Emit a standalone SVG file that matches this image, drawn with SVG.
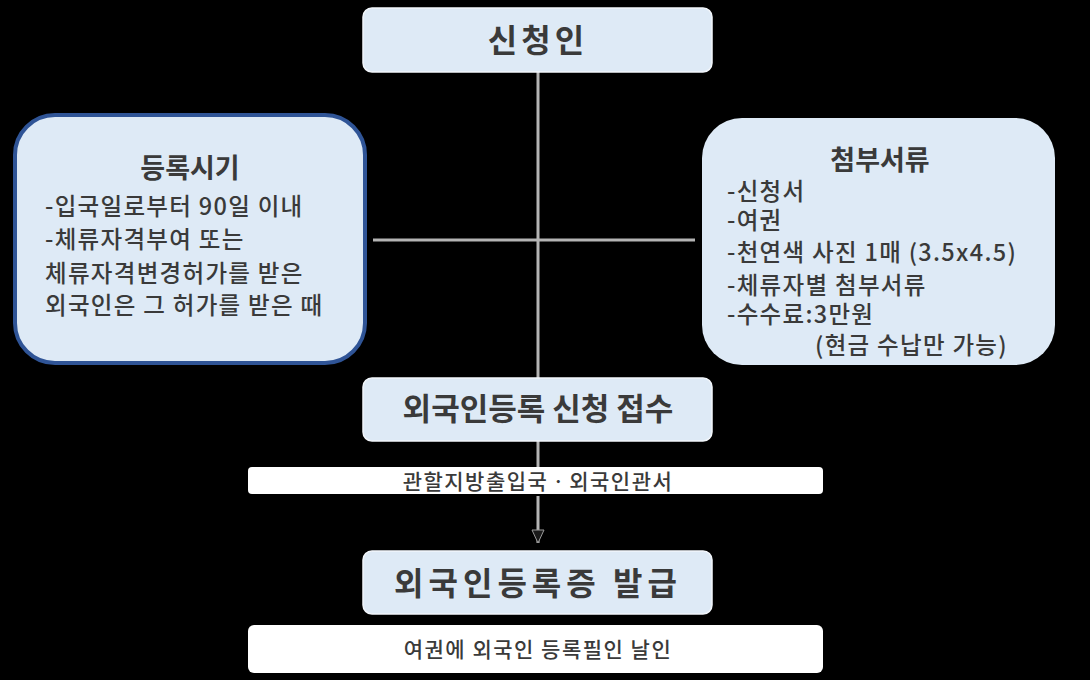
<svg xmlns="http://www.w3.org/2000/svg" width="1090" height="680" viewBox="0 0 1090 680">
<defs>
<style>
.bx{fill:#deeaf6;stroke:#f2f6fb;stroke-width:1.5}
.wb{fill:#ffffff}
.t{font-family:"Noto Sans CJK KR","Noto Sans",sans-serif;fill:#3a3a3a;font-weight:500}
.b{font-weight:bold}
.c{text-anchor:middle}
.bd{font-size:23.5px;letter-spacing:1.3px}
.ln{stroke:#b4b4b4;stroke-width:3;fill:none}
</style>
<marker id="ah" viewBox="-1 -1 15 14" refX="13" refY="6" markerWidth="15" markerHeight="14" markerUnits="userSpaceOnUse" orient="auto">
<path d="M0,0 L13,6 L0,12 Z" fill="#1a1a1a" stroke="#9a9a9a" stroke-width="1"/>
</marker>
</defs>
<rect width="1090" height="680" fill="#000000"/>
<g id="connectors">
<line class="ln" x1="538" y1="72" x2="538" y2="378"/>
<line class="ln" x1="373" y1="240" x2="695" y2="240"/>
<line class="ln" x1="538" y1="441" x2="538" y2="467"/>
<line class="ln" x1="538" y1="496" x2="538" y2="543" marker-end="url(#ah)"/>
</g>
<g id="applicant">
<rect class="bx" x="363" y="8" width="349" height="64" rx="9"/>
<text class="t b c" x="538" y="52" font-size="32" letter-spacing="4">신청인</text>
</g>
<g id="registration-time">
<rect x="15" y="115" width="350" height="248" rx="40" fill="#deeaf6" stroke="#2f5496" stroke-width="4"/>
<text class="t b c" x="190" y="178" font-size="27">등록시기</text>
<text class="t bd" x="45" y="215">-입국일로부터 90일 이내</text>
<text class="t bd" x="45" y="248">-체류자격부여 또는</text>
<text class="t bd" x="45" y="282">체류자격변경허가를 받은</text>
<text class="t bd" x="45" y="314">외국인은 그 허가를 받은 때</text>
</g>
<g id="documents">
<rect x="702" y="118" width="353" height="247" rx="40" fill="#deeaf6"/>
<text class="t b c" x="880" y="170" font-size="27">첨부서류</text>
<text class="t bd" x="727" y="200">-신청서</text>
<text class="t bd" x="727" y="229">-여권</text>
<text class="t bd" x="727" y="261">-천연색 사진 1매 (3.5x4.5)</text>
<text class="t bd" x="727" y="294">-체류자별 첨부서류</text>
<text class="t bd" x="727" y="323">-수수료:3만원</text>
<text class="t bd" x="815" y="354">(현금 수납만 가능)</text>
</g>
<g id="receipt">
<rect class="bx" x="363" y="378" width="349" height="63" rx="9"/>
<text class="t b c" x="538" y="420" font-size="31">외국인등록 신청 접수</text>
</g>
<g id="office">
<rect class="wb" x="248" y="467" width="575" height="27" rx="4"/>
<text class="t c" x="538" y="489" font-size="21" letter-spacing="1.5">관할지방출입국ㆍ외국인관서</text>
</g>
<g id="issue">
<rect class="bx" x="363" y="551" width="349" height="63" rx="9"/>
<text class="t b c" x="538" y="595" font-size="32" letter-spacing="5">외국인등록증 발급</text>
</g>
<g id="stamp">
<rect class="wb" x="248" y="625" width="575" height="48" rx="6"/>
<text class="t c" x="538" y="657" font-size="21" letter-spacing="1.5">여권에 외국인 등록필인 날인</text>
</g>
</svg>
